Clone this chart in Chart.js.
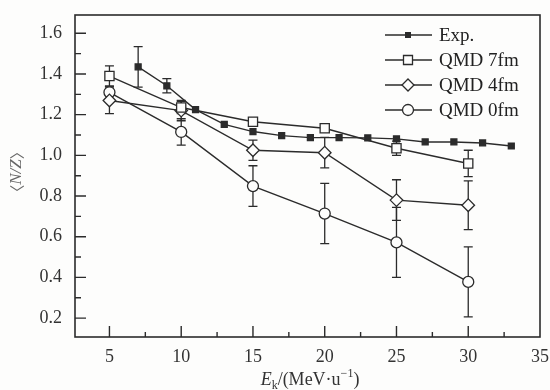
<!DOCTYPE html>
<html>
<head>
<meta charset="utf-8">
<script src="https://cdn.jsdelivr.net/npm/chart.js@4/dist/chart.umd.min.js"></script>
<style>
  html, body { margin: 0; padding: 0; background: #fdfdfc; }
  #wrap { width: 550px; height: 390px; }
</style>
</head>
<body>
<div id="wrap"><canvas id="nzChart"></canvas></div>
<script>
// beam energy (MeV/u) of the QMD runs
const energy = [5, 10, 15, 20, 25, 30];
// experiment
const expEnergy = [7, 9, 11, 13, 15, 17, 19, 21, 23, 25, 27, 29, 31, 33];
const expNZ = [1.435, 1.342, 1.225, 1.152, 1.117, 1.097, 1.087, 1.087, 1.086, 1.081, 1.066, 1.066, 1.061, 1.046];
const expErr = [0.1, 0.035, 0, 0, 0, 0, 0, 0, 0, 0, 0, 0, 0, 0];
// QMD, impact parameter 7, 4, 0 fm
const qmd7 = [1.39, 1.235, 1.165, 1.133, 1.035, 0.96];
const qmd7Err = [0.05, 0.03, 0, 0, 0.035, 0.065];
const qmd4 = [1.27, 1.22, 1.025, 1.013, 0.78, 0.755];
const qmd4Err = [0.065, 0.05, 0.05, 0.075, 0.1, 0.12];
const qmd0 = [1.31, 1.115, 0.849, 0.714, 0.572, 0.378];
const qmd0Err = [0.03, 0.065, 0.1, 0.148, 0.172, 0.172];

const seriesNames = ["Exp.", "QMD 7fm", "QMD 4fm", "QMD 0fm"];
const xTicks = [5, 10, 15, 20, 25, 30, 35];
const yTicks = [0.2, 0.4, 0.6, 0.8, 1.0, 1.2, 1.4, 1.6];

const ink = "#2b2b2b";
const serif = "'Liberation Serif', 'Times New Roman', serif";

function pts(xs, ys) {
  return xs.map((x, i) => ({ x: x, y: ys[i] }));
}

function series(label, xs, ys, errs, style, radius, fill) {
  return {
    label: label,
    data: pts(xs, ys),
    errors: errs,
    borderColor: ink,
    borderWidth: 1.4,
    pointStyle: style,
    pointRadius: radius,
    pointBorderWidth: 1.3,
    pointBorderColor: ink,
    pointBackgroundColor: fill,
    tension: 0,
  };
}

// little marker painter for the legend
function marker(ctx, style, x, y) {
  ctx.save();
  ctx.lineWidth = 1.3;
  ctx.strokeStyle = ink;
  ctx.fillStyle = "#fdfdfc";
  ctx.beginPath();
  if (style == "exp") {
    ctx.fillStyle = ink;
    ctx.rect(x - 3, y - 3, 6, 6);
    ctx.fill();
  } else if (style == "rect") {
    ctx.rect(x - 4.5, y - 4.5, 9, 9);
    ctx.fill(); ctx.stroke();
  } else if (style == "rectRot") {
    ctx.moveTo(x, y - 6); ctx.lineTo(x + 6, y); ctx.lineTo(x, y + 6); ctx.lineTo(x - 6, y);
    ctx.closePath();
    ctx.fill(); ctx.stroke();
  } else {
    ctx.arc(x, y, 5.5, 0, Math.PI * 2);
    ctx.fill(); ctx.stroke();
  }
  ctx.restore();
}

const decor = {
  id: "decor",
  beforeDatasetsDraw(chart) {
    // error bars, under the markers
    const ctx = chart.ctx, xs = chart.scales.x, ys = chart.scales.y;
    ctx.save();
    ctx.strokeStyle = ink;
    ctx.lineWidth = 1.3;
    chart.data.datasets.forEach(ds => {
      ds.data.forEach((p, i) => {
        const e = ds.errors[i];
        if (!e) return;
        const px = xs.getPixelForValue(p.x);
        const top = ys.getPixelForValue(p.y + e);
        const bot = ys.getPixelForValue(p.y - e);
        ctx.beginPath();
        ctx.moveTo(px, top); ctx.lineTo(px, bot);
        ctx.moveTo(px - 4.5, top); ctx.lineTo(px + 4.5, top);
        ctx.moveTo(px - 4.5, bot); ctx.lineTo(px + 4.5, bot);
        ctx.stroke();
      });
    });
    ctx.restore();
  },
  afterDraw(chart) {
    const ctx = chart.ctx, a = chart.chartArea;
    const xs = chart.scales.x, ys = chart.scales.y;
    ctx.save();
    ctx.strokeStyle = ink;
    ctx.lineWidth = 1.6;
    ctx.strokeRect(a.left, a.top, a.right - a.left, a.bottom - a.top);

    // inward ticks
    ctx.lineWidth = 1.4;
    ctx.beginPath();
    for (let k = 1; k * 2.5 < 35; k++) {
      const v = k * 2.5;
      if (v < xs.min) continue;
      const px = xs.getPixelForValue(v);
      const len = k % 2 == 0 ? 11 : 5;
      ctx.moveTo(px, a.bottom); ctx.lineTo(px, a.bottom - len);
    }
    for (let k = 2; k <= 16; k++) {
      const py = ys.getPixelForValue(k / 10);
      const len = k % 2 == 0 ? 11 : 6;
      ctx.moveTo(a.left, py); ctx.lineTo(a.left + len, py);
    }
    ctx.stroke();

    // legend
    const styles = ["exp", "rect", "rectRot", "circle"];
    ctx.font = "19px " + serif;
    ctx.fillStyle = "#222";
    ctx.textBaseline = "middle";
    seriesNames.forEach((name, i) => {
      const y = 35 + i * 25;
      ctx.beginPath();
      ctx.lineWidth = 1.4;
      ctx.moveTo(385, y); ctx.lineTo(432, y);
      ctx.stroke();
      marker(ctx, styles[i], 408, y);
      ctx.fillText(name, 439, y + 1);
    });

    // x title: E_k/(MeV·u^-1)
    const parts = [
      { t: "E", f: "italic 18px " + serif, dy: 0 },
      { t: "k", f: "12px " + serif, dy: 4 },
      { t: "/(MeV\u00b7u", f: "18px " + serif, dy: 0 },
      { t: "\u22121", f: "12px " + serif, dy: -8 },
      { t: ")", f: "18px " + serif, dy: 0 },
    ];
    let w = 0;
    parts.forEach(p => { ctx.font = p.f; w += ctx.measureText(p.t).width; });
    let x = 310 - w / 2;
    ctx.textBaseline = "alphabetic";
    ctx.fillStyle = "#333";
    parts.forEach(p => {
      ctx.font = p.f;
      ctx.fillText(p.t, x, 385 + p.dy);
      x += ctx.measureText(p.t).width;
    });

    // y title: <N/Z>
    ctx.translate(17, 172);
    ctx.rotate(-Math.PI / 2);
    const yparts = [
      { t: "\u3008", f: "15px 'Noto Sans CJK SC'" },
      { t: "N/Z", f: "italic 17px " + serif },
      { t: "\u3009", f: "15px 'Noto Sans CJK SC'" },
    ];
    w = 0;
    yparts.forEach(p => { ctx.font = p.f; w += ctx.measureText(p.t).width; });
    x = -w / 2;
    ctx.fillStyle = "#666";
    ctx.textBaseline = "middle";
    yparts.forEach(p => {
      ctx.font = p.f;
      ctx.fillText(p.t, x, 0);
      x += ctx.measureText(p.t).width;
    });
    ctx.restore();
  },
};

new Chart(document.getElementById("nzChart"), {
  type: "line",
  data: {
    datasets: [
      series(seriesNames[0], expEnergy, expNZ, expErr, "rect", 4.2, ink),
      series(seriesNames[1], energy, qmd7, qmd7Err, "rect", 6.5, "#fdfdfc"),
      series(seriesNames[2], energy, qmd4, qmd4Err, "rectRot", 6.3, "#fdfdfc"),
      series(seriesNames[3], energy, qmd0, qmd0Err, "circle", 5.5, "#fdfdfc"),
    ],
  },
  options: {
    responsive: true,
    maintainAspectRatio: false,
    animation: false,
    layout: { padding: { top: 15, right: 10, left: 0, bottom: 0 } },
    plugins: { legend: { display: false }, tooltip: { enabled: false } },
    scales: {
      x: {
        type: "linear",
        min: 2.6,
        max: 35,
        afterBuildTicks: s => { s.ticks = xTicks.map(v => ({ value: v })); },
        afterFit: s => { s.height = 53; s.paddingLeft = 0; s.paddingRight = 0; },
        grid: { display: false, drawTicks: false },
        border: { display: false },
        ticks: { font: { family: serif, size: 18 }, color: "#333", padding: 9, maxRotation: 0, autoSkip: false },
      },
      y: {
        type: "linear",
        min: 0.107,
        max: 1.69,
        afterBuildTicks: s => { s.ticks = yTicks.map(v => ({ value: v })); },
        afterFit: s => { s.width = 75; s.paddingTop = 0; s.paddingBottom = 0; },
        grid: { display: false, drawTicks: false },
        border: { display: false },
        ticks: {
          font: { family: serif, size: 18 },
          color: "#333",
          padding: 13,
          callback: v => v.toFixed(1),
        },
      },
    },
  },
  plugins: [decor],
});
</script>
</body>
</html>
